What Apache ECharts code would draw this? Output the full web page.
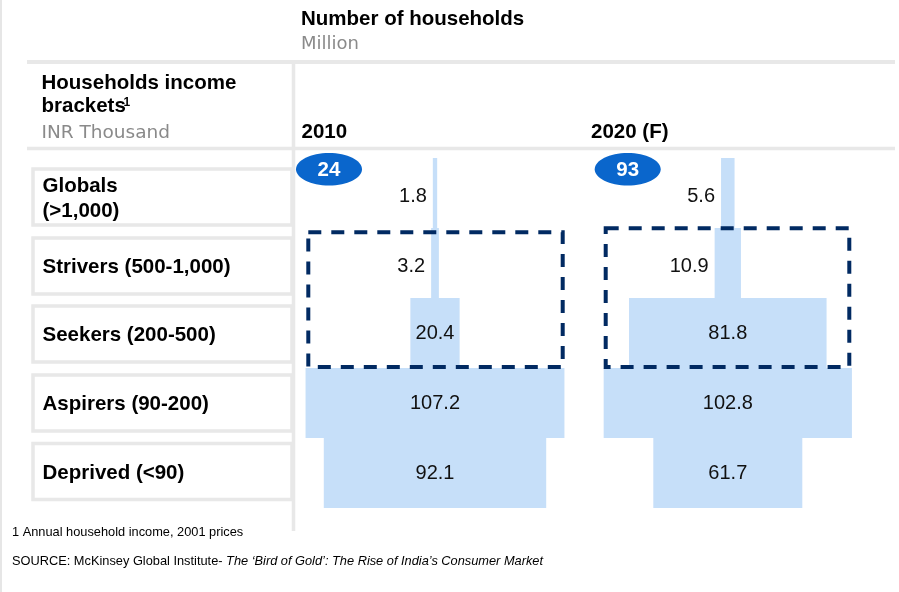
<!DOCTYPE html>
<html>
<head>
<meta charset="utf-8">
<script src="https://cdn.jsdelivr.net/npm/echarts@6/dist/echarts.min.js"></script>
<style>
  html, body { margin: 0; padding: 0; background: #fff; }
  #chart { width: 899px; height: 592px; }
</style>
</head>
<body>
<div id="chart"></div>
<script>
// Household income brackets, top (richest) to bottom
const brackets = ['Globals\n(>1,000)', 'Strivers (500-1,000)', 'Seekers (200-500)', 'Aspirers (90-200)', 'Deprived (<90)'];
// Number of households, million
const households2010 = [1.8, 3.2, 20.4, 107.2, 92.1];
const households2020 = [5.6, 10.9, 81.8, 102.8, 61.7];
// Column headers and the highlighted totals shown in the badges
const yearLabels = ['2010', '2020 (F)'];
const badgeValues = ['24', '93'];

const FONT = '"Liberation Sans", Arial, Helvetica, sans-serif';
const BOLD = 'bold 20.5px ' + FONT;
const BAR_COLOR = '#c6dff9';
const BORDER_GRAY = '#e8e8e8';

const chart = echarts.init(document.getElementById('chart'), null, { renderer: 'canvas' });

// Centered ("pyramid") bar: each bar spans -v/2 .. +v/2 on a symmetric value axis
function pyramidItem(params, api) {
  const v = api.value(0);
  const cat = api.value(1);
  const left = api.coord([-v / 2, cat]);
  const right = api.coord([v / 2, cat]);
  const h = api.size([0, 1])[1];
  const w = right[0] - left[0];
  const cy = left[1];
  const outside = w < 45;
  return {
    type: 'group',
    children: [
      {
        type: 'rect',
        shape: { x: left[0], y: cy - h / 2, width: w, height: h },
        style: { fill: BAR_COLOR }
      },
      {
        type: 'text',
        z2: 10,
        style: {
          text: v.toFixed(1),
          x: outside ? left[0] - 6 : (left[0] + right[0]) / 2,
          y: outside ? cy + 3 : cy,
          align: outside ? 'right' : 'center',
          verticalAlign: 'middle',
          fill: '#111',
          font: '20px ' + FONT
        }
      }
    ]
  };
}

function seriesFor(values, idx) {
  return {
    type: 'custom',
    xAxisIndex: idx,
    yAxisIndex: idx,
    renderItem: pyramidItem,
    encode: { x: 0, y: 1 },
    data: values.map((v, i) => [v, i]),
    silent: true
  };
}

const graphics = [];

// Frame lines
graphics.push(
  { type: 'line', shape: { x1: 1, y1: 0, x2: 1, y2: 592 }, style: { stroke: '#e6e6e6', lineWidth: 2 } },
  { type: 'line', shape: { x1: 27, y1: 62, x2: 895, y2: 62 }, style: { stroke: BORDER_GRAY, lineWidth: 4 } },
  { type: 'line', shape: { x1: 27, y1: 148.5, x2: 895, y2: 148.5 }, style: { stroke: BORDER_GRAY, lineWidth: 3.5 } },
  { type: 'line', shape: { x1: 293.5, y1: 62, x2: 293.5, y2: 531 }, style: { stroke: BORDER_GRAY, lineWidth: 3.5 } }
);

// Plain text helper
function text(str, x, y, font, fill, opts) {
  const o = opts || {};
  return {
    type: 'text', z: o.z || 5,
    style: {
      text: str, x: x, y: y, font: font, fill: fill || '#000',
      verticalAlign: 'middle', align: o.align || 'left',
      lineHeight: o.lineHeight
    }
  };
}

// Headers
graphics.push(
  text('Number of households', 301, 19, BOLD),
  text('Million', 301, 44.5, '18px "DejaVu Sans", sans-serif', '#8a8a8a'),
  text('Households income', 41.5, 83, BOLD),
  text('brackets', 41.5, 106.5, BOLD),
  text('1', 123.5, 103, 'bold 12px ' + FONT),
  text('INR Thousand', 41.5, 133, '18.5px "DejaVu Sans", sans-serif', '#8a8a8a'),
  text(yearLabels[0], 301.5, 132, BOLD),
  text(yearLabels[1], 591, 132, BOLD)
);

// Row label boxes
const boxTops = [169, 238, 306, 375, 443.5];
brackets.forEach((label, i) => {
  graphics.push({
    type: 'rect', z: 1,
    shape: { x: 33, y: boxTops[i], width: 259, height: 56 },
    style: { fill: '#fff', stroke: BORDER_GRAY, lineWidth: 3.5 }
  });
  graphics.push(text(label, 42.5, boxTops[i] + 29.5, BOLD, '#000', { lineHeight: 25 }));
});

// Total badges
const badgeCenters = [329, 627.7];
badgeValues.forEach((b, i) => {
  graphics.push({
    type: 'ellipse', z: 6,
    shape: { cx: badgeCenters[i], cy: 169.3, rx: 33, ry: 16.3 },
    style: { fill: '#0a66cc' }
  });
  graphics.push(text(b, badgeCenters[i], 170, BOLD, '#fff', { z: 7, align: 'center' }));
});

// Dashed highlight around Strivers + Seekers
graphics.push(
  { type: 'rect', z: 20, shape: { x: 308.3, y: 232.3, width: 254.4, height: 134.7 },
    style: { fill: null, stroke: '#012a62', lineWidth: 4, lineDash: [13, 10] } },
  { type: 'rect', z: 20, shape: { x: 605.7, y: 228.3, width: 243.6, height: 138.7 },
    style: { fill: null, stroke: '#012a62', lineWidth: 4, lineDash: [13, 10] } }
);

// Footnotes
graphics.push(
  text('1 Annual household income, 2001 prices', 12, 532, '12.8px ' + FONT, '#000'),
  {
    type: 'text', z: 5,
    style: {
      text: '{n|SOURCE: McKinsey Global Institute- }{i|The \u2018Bird of Gold\u2019: The Rise of India\u2019s Consumer Market}',
      x: 12, y: 561.5, verticalAlign: 'middle', align: 'left',
      rich: {
        n: { font: '12.8px ' + FONT, fill: '#000' },
        i: { font: 'italic 12.8px ' + FONT, fill: '#000' }
      }
    }
  }
);

const gridTop = 158, gridHeight = 350, gridWidth = 289.8;
const axisHalf = 60;

chart.setOption({
  animation: false,
  grid: [
    { left: 290.1, top: gridTop, width: gridWidth, height: gridHeight },
    { left: 582.9, top: gridTop, width: gridWidth, height: gridHeight }
  ],
  xAxis: [0, 1].map(i => ({
    gridIndex: i, type: 'value', min: -axisHalf, max: axisHalf, show: false
  })),
  yAxis: [0, 1].map(i => ({
    gridIndex: i, type: 'category', data: brackets, inverse: true, show: false
  })),
  series: [seriesFor(households2010, 0), seriesFor(households2020, 1)],
  graphic: graphics
});
</script>
</body>
</html>
